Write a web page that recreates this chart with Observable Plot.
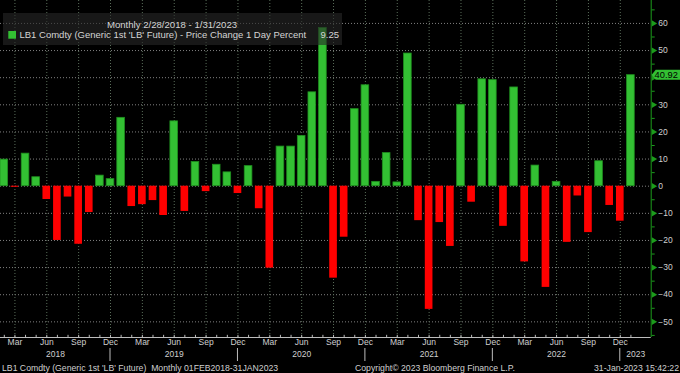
<!DOCTYPE html>
<html>
<head>
<meta charset="utf-8">
<script src="https://cdn.jsdelivr.net/npm/d3@7"></script>
<script src="https://cdn.jsdelivr.net/npm/@observablehq/plot@0.6"></script>
<style>
  html, body { margin: 0; padding: 0; background: #000; }
  svg { display: block; }
</style>
</head>
<body>
<div id="chart"></div>
<script>
// ---- Data ----
const startMonth = "2018-02-01";
const values = [9.8, -0.4, 12.0, 3.3, -4.9, -20.0, -4.0, -21.4, -9.7, 3.9, 2.6, 25.2,
  -7.5, -6.8, -5.3, -10.8, 23.9, -9.3, 8.9, -2.0, 7.9, 5.1, -2.7, 7.4,
  -8.3, -30.2, 14.6, 14.6, 18.5, 34.6, 58.3, -33.9, -18.8, 28.4, 37.2, 1.6,
  12.2, 1.4, 48.9, -12.7, -45.4, -13.4, -22.2, 30.0, -5.9, 39.4, 39.1, -14.8,
  36.4, -27.9, 7.6, -37.3, 1.6, -20.7, -3.6, -17.1, 9.2, -7.1, -12.9, 40.92];
const monthTickLabels = ["Mar", "Jun", "Sep", "Dec"];
const yearLabels = ["2018", "2019", "2020", "2021", "2022", "2023"];
const yTicks = [-50, -40, -30, -20, -10, 0, 10, 20, 30, 40, 50, 60];
const yMinorTicks = [-55, -45, -35, -25, -15, -5, 5, 15, 25, 35, 45, 55, 65];
const titleText = "Monthly 2/28/2018 - 1/31/2023";
const seriesName = "LB1 Comdty (Generic 1st 'LB' Future) - Price Change 1 Day Percent";
const legendValue = "9.25";
const footerLeft = "LB1 Comdty (Generic 1st 'LB' Future)  Monthly 01FEB2018-31JAN2023";
const footerMid = "Copyright\u00A9 2023 Bloomberg Finance L.P.";
const footerRight = "31-Jan-2023 15:42:22";

// ---- Derived table ----
const monthNames = ["Jan","Feb","Mar","Apr","May","Jun","Jul","Aug","Sep","Oct","Nov","Dec"];
const start = new Date(startMonth + "T00:00:00Z");
const rows = values.map((v, i) => {
  const d = d3.utcMonth.offset(start, i);
  return {i, date: d, month: monthNames[d.getUTCMonth()], year: d.getUTCFullYear(), value: v};
});
const quarterRows = rows.filter(r => monthTickLabels.includes(r.month));
const decRows = rows.filter(r => r.month === "Dec");
const last = rows[rows.length - 1];

// ---- Layout ----
const GREEN = "#33c033", RED = "#ff0000", AXISGREEN = "#1c9c1c", TXT = "#cfcfcf";
const xMin = -0.358, xMax = 60.91;
const yMin = -55.77, yMax = 68.45;

const yearCenters = yearLabels.map(y => {
  const yr = +y;
  const lo = Math.max(xMin, ...decRows.filter(r => r.year === yr - 1).map(r => r.i));
  const hiCand = decRows.filter(r => r.year === yr).map(r => r.i);
  const hi = hiCand.length ? hiCand[0] : xMax;
  return {label: y, x: (lo + hi) / 2};
});
// the last-value tag hides the tick label it sits on
const yLabelTicks = yTicks.filter(t => Math.abs(t - last.value) > 3);

const chart = Plot.plot({
  width: 680,
  height: 373,
  marginTop: 0,
  marginLeft: 0,
  marginRight: 29.3,
  marginBottom: 36,
  style: {background: "#000", color: TXT, fontFamily: "Liberation Sans, Arial, sans-serif", fontSize: "8.5px", overflow: "visible"},
  x: {type: "linear", domain: [xMin, xMax], axis: null},
  y: {domain: [yMin, yMax]},
  marks: [
    Plot.ruleY(yTicks, {stroke: "#808080", strokeDasharray: "1,2"}),
    Plot.ruleX(quarterRows, {x: "i", stroke: "#5a6e5a", strokeDasharray: "1,2"}),
    Plot.rect(rows, {
      x1: d => d.i - 0.36, x2: d => d.i + 0.36,
      y1: () => 0, y2: "value",
      fill: d => d.value >= 0 ? GREEN : RED,
      stroke: d => d.value >= 0 ? "#1f8f1f" : "none",
      strokeWidth: 0.8
    }),
    // bottom axis line and month ticks
    Plot.ruleY([yMin], {stroke: "#bdbdbd"}),
    Plot.ruleX(rows, {x: "i", y1: () => yMin, y2: () => yMin + 0.8, stroke: "#bdbdbd"}),
    Plot.text(quarterRows, {x: "i", text: "month", frameAnchor: "bottom", dy: 7.5, fill: TXT, fontSize: 8.5}),
    Plot.text(yearCenters, {x: "x", text: "label", frameAnchor: "bottom", dy: 19, fill: TXT, fontSize: 8.5}),
    // right axis
    Plot.ruleX([xMax], {stroke: AXISGREEN}),
    Plot.axisY(yMinorTicks, {anchor: "right", tickSize: 3, stroke: AXISGREEN, tickFormat: () => "", label: null}),
    Plot.axisY(yLabelTicks, {anchor: "right", tickSize: 0, tickPadding: 7, color: TXT, fontSize: 8.5, label: null}),
    Plot.dot(yTicks, {y: d => d, frameAnchor: "right", symbol: "triangle", rotate: 90, r: 2.3, dx: 2.4, fill: AXISGREEN})
  ]
});

document.getElementById("chart").appendChild(chart);

// ---- Decorations using the plot's scales ----
const svg = d3.select(chart);
const X = v => chart.scale("x").apply(v);
const Y = v => chart.scale("y").apply(v);
const font = "Liberation Sans, Arial, sans-serif";

// year separators
svg.append("g").selectAll("line").data(decRows).join("line")
  .attr("x1", d => X(d.i)).attr("x2", d => X(d.i))
  .attr("y1", 348).attr("y2", 361)
  .attr("stroke", "#bdbdbd");

// legend box
const lg = svg.append("g").attr("font-family", font).attr("text-anchor", "start");
lg.append("rect").attr("x", 3).attr("y", 13).attr("width", 339).attr("height", 32)
  .attr("fill", "#262626").attr("fill-opacity", 0.62);
lg.append("text").attr("x", 172).attr("y", 25).attr("dy", "0.35em")
  .attr("text-anchor", "middle").attr("fill", "#d4d4d4").attr("font-size", 9.6).text(titleText);
lg.append("rect").attr("x", 8.3).attr("y", 31).attr("width", 7.7).attr("height", 7.7).attr("fill", GREEN);
lg.append("text").attr("x", 19.5).attr("y", 35).attr("dy", "0.35em").attr("text-anchor", "start")
  .attr("fill", "#d4d4d4").attr("font-size", 9.5).text(seriesName);
lg.append("text").attr("x", 339).attr("y", 35).attr("dy", "0.35em").attr("text-anchor", "end")
  .attr("fill", "#d4d4d4").attr("font-size", 9.5).text(legendValue);

// last value tag
const ty = Y(last.value);
const tx = X(xMax);
const tag = svg.append("g").attr("font-family", font);
tag.append("path")
  .attr("d", `M${tx + 1},${ty} L${tx + 5},${ty - 5} L680,${ty - 5} L680,${ty + 5} L${tx + 5},${ty + 5} Z`)
  .attr("fill", GREEN);
tag.append("text").attr("x", tx + 15.5).attr("y", ty).attr("dy", "0.35em").attr("text-anchor", "middle")
  .attr("fill", "#000").attr("font-size", 9.3).text(last.value.toFixed(2));

// footer
const ft = svg.append("g").attr("font-family", font).attr("fill", "#d0d0d0").attr("font-size", 8.7).attr("text-anchor", "start");
ft.append("text").attr("x", 2).attr("y", 367.7).attr("dy", "0.35em").attr("text-anchor", "start").text(footerLeft);
ft.append("text").attr("x", 355).attr("y", 367.7).attr("dy", "0.35em").attr("text-anchor", "start").text(footerMid);
ft.append("text").attr("x", 679).attr("y", 367.7).attr("dy", "0.35em").attr("text-anchor", "end").text(footerRight);
</script>
</body>
</html>
